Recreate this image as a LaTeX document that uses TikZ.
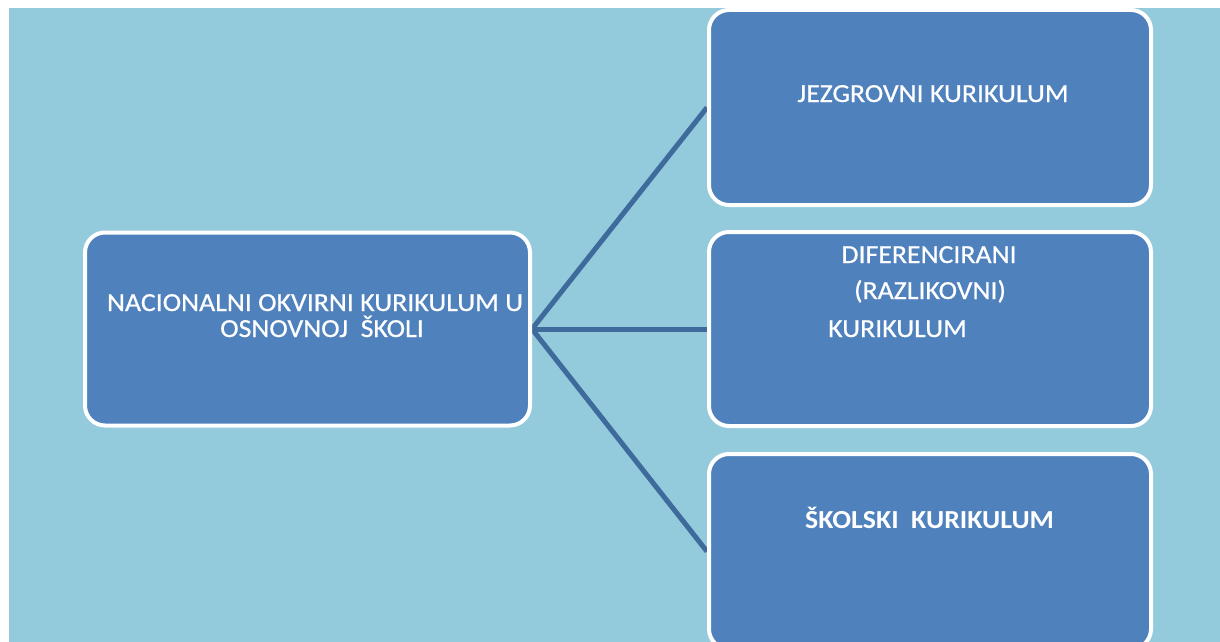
\documentclass[tikz,border=0pt]{standalone}
\usepackage{fontspec}
\setmainfont{Carlito}[FakeStretch=1.07]
\newfontfamily\heavyfont{Carlito}[FakeStretch=1.07,FakeBold=0.6]
\usetikzlibrary{backgrounds}
\definecolor{bgblue}{HTML}{93CBDC}
\definecolor{boxblue}{HTML}{4F81BD}
\definecolor{linkblue}{HTML}{3E6A9C}
\pgfdeclarelayer{back}
\pgfsetlayers{back,background,main}
\begin{document}
\begin{tikzpicture}[x=1pt,y=-1pt,
  box/.style={draw=white,line width=4pt,fill=boxblue,rounded corners=20pt,inner sep=0pt},
  txt/.style={text=white,font=\heavyfont\fontsize{26}{30}\selectfont,anchor=base,inner sep=0pt},
  link/.style={draw=linkblue,line width=5pt}]
\useasboundingbox (0,0) rectangle (1220,642);
\begin{pgfonlayer}{back}
  \fill[white] (0,0) rectangle (1220,642);
  \fill[bgblue] (9,8) rectangle (1220,642);
\end{pgfonlayer}
\node[box,minimum width=445pt,minimum height=193pt] (root) at (307.5,329) {};
\node[box,minimum width=442pt,minimum height=195pt] (core) at (930,107.5) {};
\node[box,minimum width=442pt,minimum height=194pt] (diff) at (930,329) {};
\node[box,minimum width=442pt,minimum height=195pt] (school) at (930,551.5) {};
\begin{scope}[on background layer]
  \draw[link] (root.east) -- (core.west);
  \draw[link] (root.east) -- (diff.west);
  \draw[link] (root.east) -- (school.west);
\end{scope}
\node[txt] (t1) at (315,311) {NACIONALNI OKVIRNI KURIKULUM U};
\node[txt] (t2) at (322,337) {OSNOVNOJ\ \ ŠKOLI};
\node[txt] (t3) at (933,102) {JEZGROVNI KURIKULUM};
\node[txt] (t4) at (929,263) {DIFERENCIRANI};
\node[txt] (t5) at (930,299) {(RAZLIKOVNI)};
\node[txt] (t6) at (897.5,337) {KURIKULUM};
\node[txt,font=\fontsize{26}{30}\selectfont\bfseries] (t7) at (929.5,528) {ŠKOLSKI\ \ KURIKULUM};
\end{tikzpicture}
\end{document}
